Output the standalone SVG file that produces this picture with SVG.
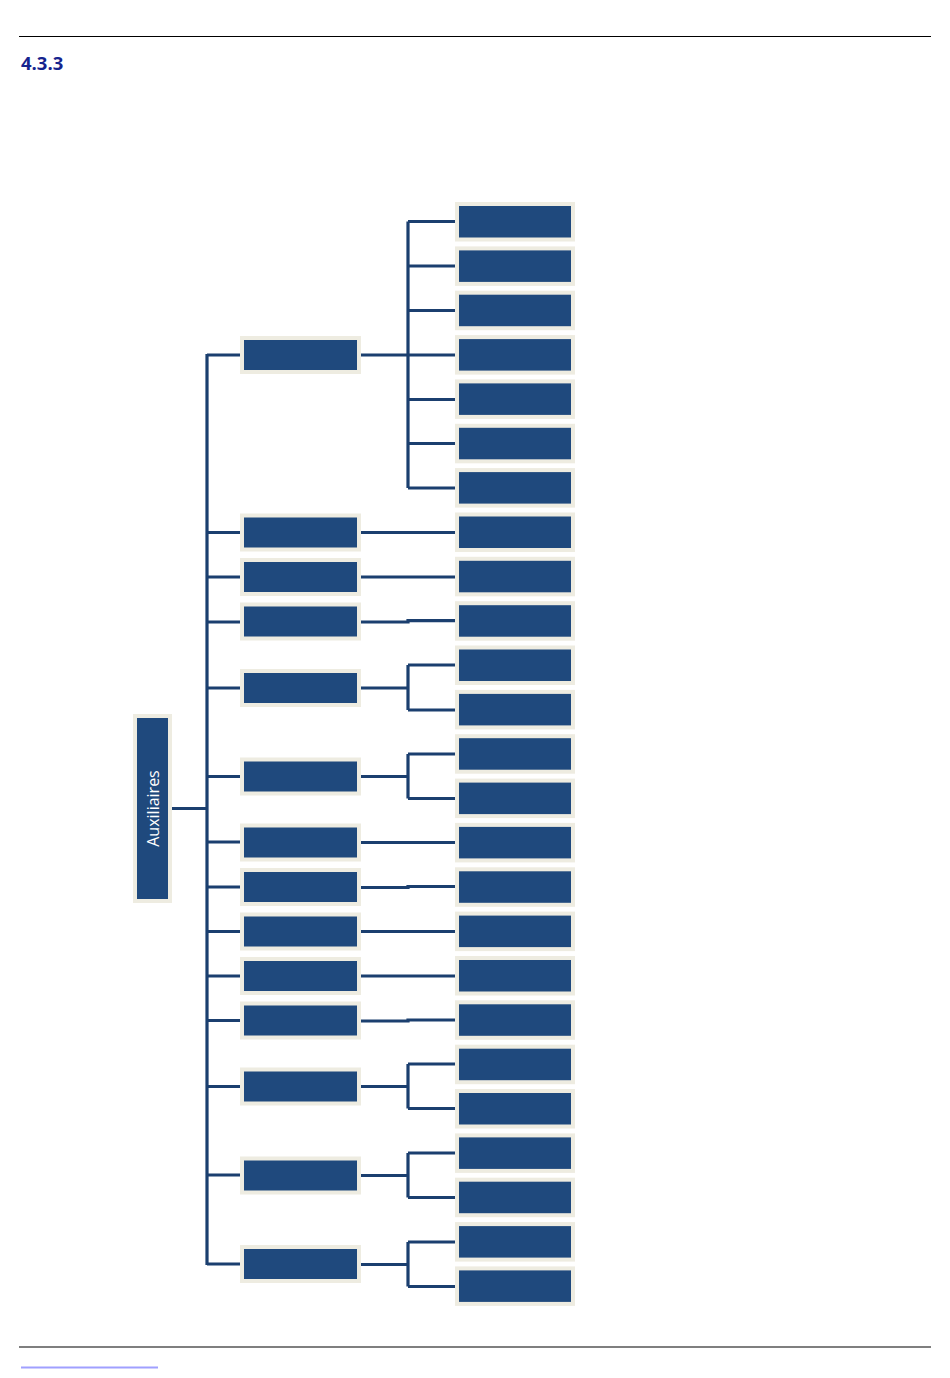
<svg xmlns="http://www.w3.org/2000/svg" width="950" height="1378" viewBox="0 0 950 1378">
<style>
.b{fill:#1F497D;stroke:#EEECE1;stroke-width:4}
.c{fill:none;stroke:#1B3F6F;stroke-width:3.2}
.t{font-family:"Open Sans","Noto Sans",sans-serif;font-size:16px;fill:#FFFFFF}
</style>
<rect width="950" height="1378" fill="#FFFFFF"/>
<line x1="19" y1="36.5" x2="931" y2="36.5" stroke="#000" stroke-width="1"/>
<text x="21" y="70" font-family="'Open Sans','Noto Sans',sans-serif" font-weight="bold" font-size="18.5" fill="#16248E">4.3.3</text>
<line x1="19" y1="1347" x2="931" y2="1347" stroke="#555" stroke-width="1.5"/>
<line x1="21" y1="1367.5" x2="158" y2="1367.5" stroke="#A0A0FF" stroke-width="2"/>
<g id="connectors" class="c">
<path d="M172 808.5H207M207 354V1265"/>
<path d="M207 355H240M207 532.5H240M207 577H240M207 622H240M207 688H240M207 776.5H240M207 842H240M207 887H240M207 931.5H240M207 976H240M207 1020.5H240M207 1086.5H240M207 1175H240M207 1264H240"/>
<path d="M361 355H408M408 221.5V488M408 221.5H455M408 266H455M408 310.5H455M408 355H455M408 399.5H455M408 443.5H455M408 488H455"/>
<path d="M361 532.5H455M361 577H455M361 622H408V620.7H455"/>
<path d="M361 688H408M408 665V710M408 665H455M408 710H455"/>
<path d="M361 776.5H408M408 754V798.5M408 754H455M408 798.5H455"/>
<path d="M361 842.5H455M361 887.5H408V886.5H455M361 931.5H455M361 976H455M361 1021H408V1020H455"/>
<path d="M361 1086.5H408M408 1064V1108.5M408 1064H455M408 1108.5H455"/>
<path d="M361 1175.5H408M408 1153V1197.5M408 1153H455M408 1197.5H455"/>
<path d="M361 1264.5H408M408 1242V1286.5M408 1242H455M408 1286.5H455"/>
</g>
<g id="root"><rect class="b" x="135" y="716" width="35" height="185"/><text class="t" transform="translate(158.5 808.5) rotate(-90)" text-anchor="middle">Auxiliaires</text></g>
<g id="m1"><rect class="b" x="242" y="338" width="117" height="34"/></g>
<g id="m2"><rect class="b" x="242" y="515.5" width="117" height="34"/></g>
<g id="m3"><rect class="b" x="242" y="560" width="117" height="34"/></g>
<g id="m4"><rect class="b" x="242" y="604.5" width="117" height="34"/></g>
<g id="m5"><rect class="b" x="242" y="671" width="117" height="34"/></g>
<g id="m6"><rect class="b" x="242" y="759.5" width="117" height="34"/></g>
<g id="m7"><rect class="b" x="242" y="825.5" width="117" height="34"/></g>
<g id="m8"><rect class="b" x="242" y="870" width="117" height="34"/></g>
<g id="m9"><rect class="b" x="242" y="914.5" width="117" height="34"/></g>
<g id="m10"><rect class="b" x="242" y="959" width="117" height="34"/></g>
<g id="m11"><rect class="b" x="242" y="1003.5" width="117" height="34"/></g>
<g id="m12"><rect class="b" x="242" y="1069.5" width="117" height="34"/></g>
<g id="m13"><rect class="b" x="242" y="1158.5" width="117" height="34"/></g>
<g id="m14"><rect class="b" x="242" y="1247" width="117" height="34"/></g>
<g id="r1"><rect class="b" x="457" y="204" width="116" height="35.5"/></g>
<g id="r2"><rect class="b" x="457" y="248.4" width="116" height="35.5"/></g>
<g id="r3"><rect class="b" x="457" y="292.7" width="116" height="35.5"/></g>
<g id="r4"><rect class="b" x="457" y="337.1" width="116" height="35.5"/></g>
<g id="r5"><rect class="b" x="457" y="381.4" width="116" height="35.5"/></g>
<g id="r6"><rect class="b" x="457" y="425.8" width="116" height="35.5"/></g>
<g id="r7"><rect class="b" x="457" y="470.1" width="116" height="35.5"/></g>
<g id="r8"><rect class="b" x="457" y="514.5" width="116" height="35.5"/></g>
<g id="r9"><rect class="b" x="457" y="558.8" width="116" height="35.5"/></g>
<g id="r10"><rect class="b" x="457" y="603.2" width="116" height="35.5"/></g>
<g id="r11"><rect class="b" x="457" y="647.5" width="116" height="35.5"/></g>
<g id="r12"><rect class="b" x="457" y="691.9" width="116" height="35.5"/></g>
<g id="r13"><rect class="b" x="457" y="736.2" width="116" height="35.5"/></g>
<g id="r14"><rect class="b" x="457" y="780.6" width="116" height="35.5"/></g>
<g id="r15"><rect class="b" x="457" y="824.9" width="116" height="35.5"/></g>
<g id="r16"><rect class="b" x="457" y="869.3" width="116" height="35.5"/></g>
<g id="r17"><rect class="b" x="457" y="913.6" width="116" height="35.5"/></g>
<g id="r18"><rect class="b" x="457" y="958" width="116" height="35.5"/></g>
<g id="r19"><rect class="b" x="457" y="1002.3" width="116" height="35.5"/></g>
<g id="r20"><rect class="b" x="457" y="1046.7" width="116" height="35.5"/></g>
<g id="r21"><rect class="b" x="457" y="1091" width="116" height="35.5"/></g>
<g id="r22"><rect class="b" x="457" y="1135.4" width="116" height="35.5"/></g>
<g id="r23"><rect class="b" x="457" y="1179.7" width="116" height="35.5"/></g>
<g id="r24"><rect class="b" x="457" y="1224.1" width="116" height="35.5"/></g>
<g id="r25"><rect class="b" x="457" y="1268.4" width="116" height="35.5"/></g>
</svg>
